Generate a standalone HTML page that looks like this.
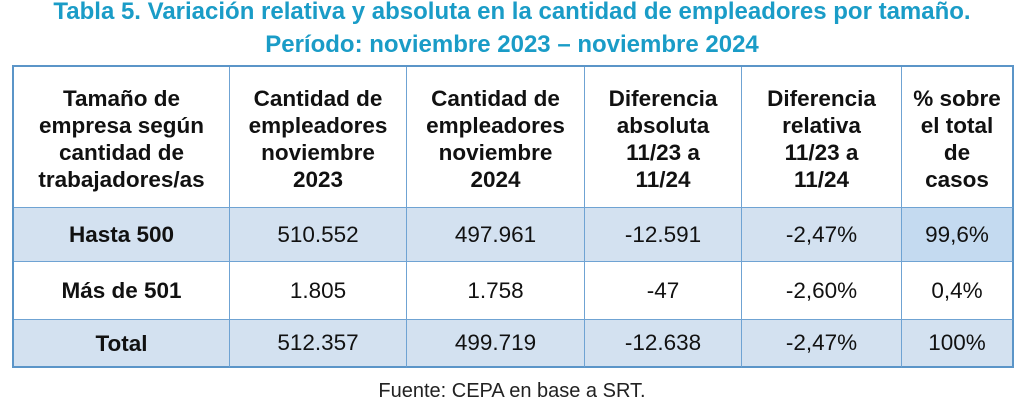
<!DOCTYPE html>
<html><head><meta charset="utf-8"><style>
body{margin:0;width:1024px;height:405px;background:#fff;overflow:hidden;position:relative;font-family:"Liberation Sans",sans-serif;}
.t{position:absolute;left:0;width:1024px;text-align:center;color:#1a9cc7;font-weight:bold;font-size:24px;white-space:nowrap;}
.c{position:absolute;display:flex;align-items:center;justify-content:center;text-align:center;font-size:22.5px;color:#111;box-sizing:border-box;border-right:1.5px solid #6fa3d3;border-bottom:1.5px solid #6fa3d3;}
.h{font-weight:bold;line-height:27px;}
.b{background:#d3e1f0;}
</style></head><body>
<div class="t" style="top:-2px;">Tabla 5. Variación relativa y absoluta en la cantidad de empleadores por tamaño.</div>
<div class="t" style="top:31px;">Período: noviembre 2023 – noviembre 2024</div>
<div style="position:absolute;left:12px;top:65px;width:1002px;height:303px;border-top:2px solid #5b95c8;border-left:2px solid #5b95c8;box-sizing:border-box;"></div>
<div id="tb"></div>
<script>
var xs=[14,230,407,585,742,902,1014], ys=[67,208,262,320,368];
var rows=[
["Tamaño de<br>empresa según<br>cantidad de<br>trabajadores/as","Cantidad de<br>empleadores<br>noviembre<br>2023","Cantidad de<br>empleadores<br>noviembre<br>2024","Diferencia<br>absoluta<br>11/23 a<br>11/24","Diferencia<br>relativa<br>11/23 a<br>11/24","% sobre<br>el total<br>de<br>casos"],
["Hasta 500","510.552","497.961","-12.591","-2,47%","99,6%"],
["Más de 501","1.805","1.758","-47","-2,60%","0,4%"],
["Total","512.357","499.719","-12.638","-2,47%","100%"]];
var h="";
for(var r=0;r<4;r++)for(var c=0;c<6;c++){
var cls="c"+(r==0||c==0?" h":"")+(r%2==1?" b":"");
var st="left:"+xs[c]+"px;top:"+ys[r]+"px;width:"+(xs[c+1]-xs[c])+"px;height:"+(ys[r+1]-ys[r])+"px;";
if(r==1&&c==5)st+="background:#c4daf0;";
if(r==0)st+="padding-top:4px;";
if(r==3)st+="border-bottom:2px solid #5b95c8;";
if(c==5)st+="border-right:2px solid #5b95c8;";
h+='<div class="'+cls+'" style="'+st+'">'+rows[r][c]+'</div>';}
document.getElementById("tb").innerHTML=h;
</script>
<div style="position:absolute;top:380px;left:0;width:1024px;text-align:center;font-size:20px;color:#222;">Fuente: CEPA en base a SRT.</div>
</body></html>
